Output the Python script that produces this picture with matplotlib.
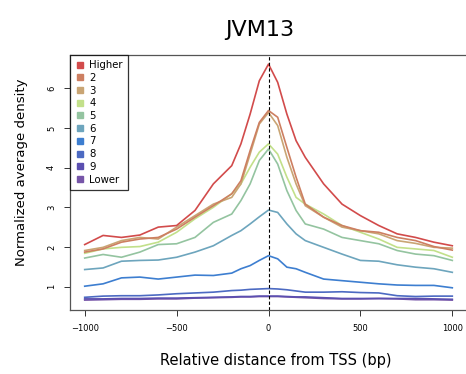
import numpy as np
import matplotlib.pyplot as plt
from matplotlib.lines import Line2D

# relative distance from TSS (bp)
pos = [-1000, -900, -800, -700, -600, -500, -400, -300, -200, -150, -100, -50, 0,
       50, 100, 150, 200, 300, 400, 500, 600, 700, 800, 900, 1000]

higher = [2.06, 2.29, 2.24, 2.30, 2.50, 2.54, 2.92, 3.59, 4.05, 4.60, 5.35, 6.19, 6.61,
          6.15, 5.35, 4.68, 4.26, 3.59, 3.08, 2.79, 2.54, 2.33, 2.24, 2.12, 2.03]
g2 = [1.87, 1.95, 2.12, 2.20, 2.24, 2.45, 2.75, 3.04, 3.34, 3.67, 4.43, 5.14, 5.44,
      5.27, 4.51, 3.76, 3.08, 2.75, 2.54, 2.41, 2.37, 2.24, 2.16, 2.01, 1.92]
g3 = [1.91, 1.99, 2.16, 2.24, 2.20, 2.50, 2.79, 3.08, 3.25, 3.59, 4.34, 5.10, 5.39,
      5.06, 4.26, 3.59, 3.04, 2.75, 2.50, 2.41, 2.33, 2.16, 2.09, 1.99, 1.97]
g4 = [1.84, 1.95, 1.99, 2.01, 2.12, 2.37, 2.71, 3.00, 3.34, 3.59, 4.01, 4.39, 4.60,
      4.34, 3.76, 3.25, 3.08, 2.83, 2.54, 2.37, 2.20, 1.99, 1.95, 1.91, 1.74]
g5 = [1.72, 1.81, 1.74, 1.87, 2.06, 2.08, 2.24, 2.62, 2.83, 3.17, 3.59, 4.18, 4.47,
      4.09, 3.42, 2.92, 2.58, 2.45, 2.24, 2.16, 2.08, 1.91, 1.82, 1.78, 1.66]
g6 = [1.43, 1.47, 1.64, 1.66, 1.67, 1.74, 1.87, 2.03, 2.29, 2.41, 2.58, 2.76, 2.93,
      2.87, 2.58, 2.33, 2.16, 1.99, 1.82, 1.66, 1.64, 1.55, 1.49, 1.45, 1.36]
g7 = [1.01, 1.07, 1.22, 1.24, 1.19, 1.24, 1.29, 1.28, 1.34, 1.45, 1.53, 1.66, 1.78,
      1.70, 1.49, 1.45, 1.36, 1.19, 1.15, 1.11, 1.07, 1.04, 1.03, 1.03, 0.97]
g8 = [0.73, 0.76, 0.77, 0.77, 0.79, 0.82, 0.84, 0.86, 0.90, 0.91, 0.93, 0.94, 0.95,
      0.94, 0.92, 0.89, 0.86, 0.86, 0.87, 0.85, 0.84, 0.77, 0.75, 0.76, 0.76]
g9 = [0.69, 0.69, 0.70, 0.70, 0.71, 0.71, 0.72, 0.73, 0.74, 0.75, 0.75, 0.76, 0.76,
      0.76, 0.75, 0.74, 0.74, 0.72, 0.70, 0.70, 0.70, 0.70, 0.70, 0.69, 0.68]
lower = [0.66, 0.67, 0.68, 0.68, 0.69, 0.69, 0.71, 0.72, 0.73, 0.74, 0.74, 0.75, 0.75,
         0.75, 0.74, 0.73, 0.72, 0.70, 0.69, 0.69, 0.70, 0.69, 0.67, 0.67, 0.66]

labels = ["Higher", "2", "3", "4", "5", "6", "7", "8", "9", "Lower"]
series = [higher, g2, g3, g4, g5, g6, g7, g8, g9, lower]
colors = ["#d24b4b", "#cd7f61", "#c9a574", "#c2e08a", "#94c4a0",
          "#6da5bd", "#3d7ed0", "#4c6ac2", "#5b4fb0", "#7655a8"]

fig = plt.figure(figsize=(4.66, 3.74), dpi=100)
ax = fig.add_axes([70 / 466, 64 / 374, 397 / 466, 255 / 374])

# draw lower groups first so the high ones sit on top
for vals, c in reversed(list(zip(series, colors))):
    ax.plot(pos, vals, color=c, lw=1.2)

ax.axvline(0, color="black", ls=(0, (3, 2)), lw=0.8)

ax.set_xlim(-1080, 1080)
ax.set_ylim(0.41, 6.84)
ax.set_xticks([-1000, -500, 0, 500, 1000])
ax.set_xticklabels(["\u22121000", "\u2212500", "0", "500", "1000"])
ax.set_yticks([1, 2, 3, 4, 5, 6])
ax.tick_params(labelsize=6, length=4, width=0.7, color="#333333", pad=6)
for lab in ax.get_yticklabels():
    lab.set_rotation(90)
    lab.set_va("center")
for s in ax.spines.values():
    s.set_color("#555555")
    s.set_linewidth(0.9)

handles = [Line2D([], [], marker="s", ls="", color=c, markersize=3.8) for c in colors]
leg = ax.legend(handles, labels, loc="upper left", borderaxespad=0, fontsize=7.3,
                frameon=True, fancybox=False, edgecolor="black", handletextpad=0.5,
                labelspacing=0.27, borderpad=0.5, handlelength=0.9)
leg.get_frame().set_linewidth(0.9)

fig.text(260 / 466, 1 - 30 / 374, "JVM13", fontsize=16, ha="center", va="center")
fig.text(276 / 466, 1 - 360 / 374, "Relative distance from TSS (bp)",
         fontsize=10.5, ha="center", va="center")
fig.text(22 / 466, 1 - 172 / 374, "Normalized average density", fontsize=9.5,
         rotation=90, ha="center", va="center")

fig.savefig("out.png", dpi=100)
